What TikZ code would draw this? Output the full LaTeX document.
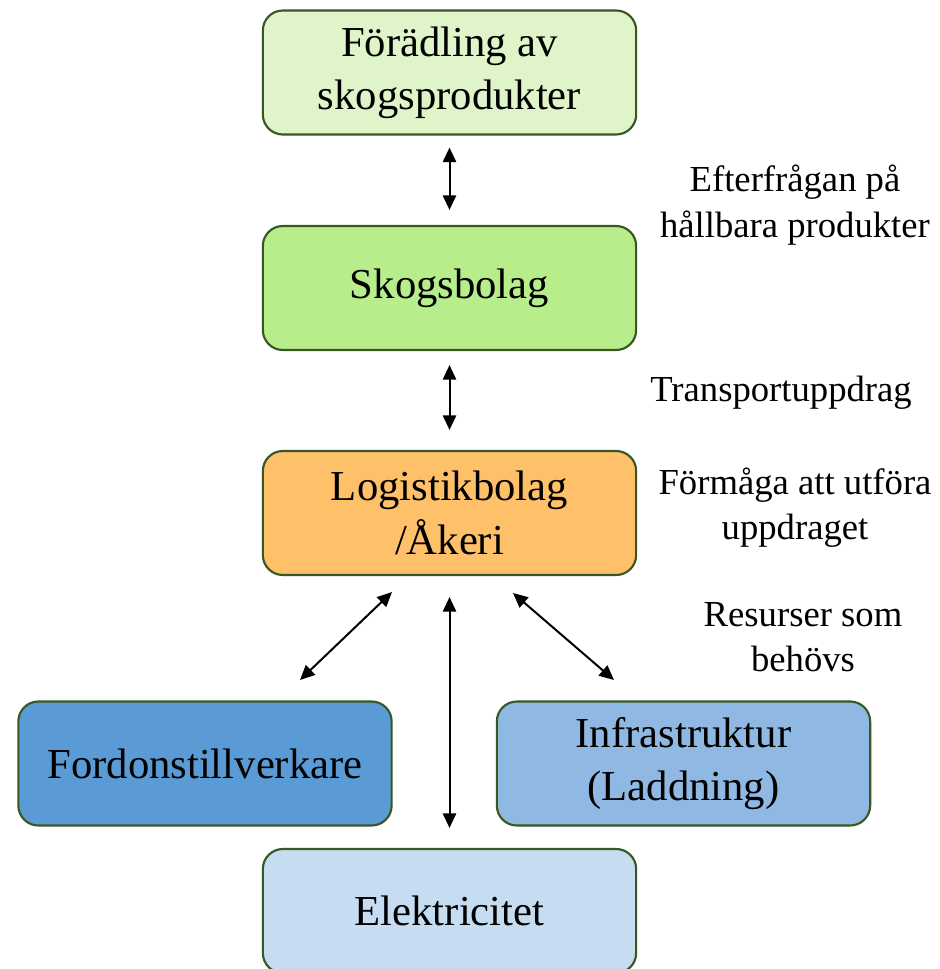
\documentclass[tikz,border=0pt]{standalone}
\usepackage{fontspec}
\setmainfont{Liberation Serif}
\usetikzlibrary{arrows.meta}

\definecolor{boxline}{RGB}{56,87,35}
\definecolor{greenpale}{RGB}{223,245,201}
\definecolor{greenmid}{RGB}{184,237,140}
\definecolor{orangebox}{RGB}{255,192,106}
\definecolor{bluedark}{RGB}{91,155,213}
\definecolor{bluemid}{RGB}{143,185,227}
\definecolor{bluepale}{RGB}{197,220,241}

\tikzset{
	box/.style={draw=boxline, line width=1.6pt, rounded corners=15pt, minimum width=280pt, minimum height=93pt, align=center, font=\fontsize{32}{40}\selectfont, inner sep=0pt},
	lbl/.style={align=center, font=\fontsize{27.5}{34}\selectfont},
	dbl/.style={{Triangle[length=11pt,width=10pt]}-{Triangle[length=11pt,width=10pt]}, line width=1.5pt}
}

\begin{document}
\begin{tikzpicture}[x=0.75pt, y=-0.75pt]
			%%%%% START %%%%%
			
			\useasboundingbox (0, 0) rectangle (939, 969);
			
			\node[box, fill=greenpale] (foer) at (449.5, 72.5) {Förädling av\\skogsprodukter};
			\node[box, fill=greenmid] (skog) at (449.5, 288) {Skogsbolag};
			\node[box, fill=orangebox] (logi) at (449.5, 513) {Logistikbolag\\/Åkeri};
			
			\node[box, fill=bluedark] (ford) at (205, 763.5) {Fordonstillverkare};
			\node[box, fill=bluemid] (infra) at (683.5, 763.5) {Infrastruktur\\(Laddning)};
			\node[box, fill=bluepale] (elek) at (449.5, 911) {Elektricitet};
			
			\node[lbl] (efter) at (795, 205) {Efterfrågan på\\hållbara produkter};
			\node[lbl] (transp) at (781, 393) {Transportuppdrag};
			\node[lbl] (formaga) at (795, 508) {Förmåga att utföra\\uppdraget};
			\node[lbl] (resurs) at (803, 637) {Resurser som\\behövs};
			
			\coordinate (lefttop) at (392, 592);
			\coordinate (leftbot) at (300, 680);
			\coordinate (righttop) at (513, 593);
			\coordinate (rightbot) at (614, 680);
			
			\draw[dbl, shorten <=12pt*0.75, shorten >=15pt*0.75] (foer) -- (skog);
			\draw[dbl, shorten <=14pt*0.75, shorten >=20pt*0.75] (skog) -- (logi);
			\draw[dbl] (leftbot) -- (lefttop);
			\draw[dbl, shorten <=21pt*0.75, shorten >=20pt*0.75] (logi) -- (elek);
			\draw[dbl] (righttop) -- (rightbot);
			
			%%%%% END %%%%%
		\end{tikzpicture}
\end{document}
